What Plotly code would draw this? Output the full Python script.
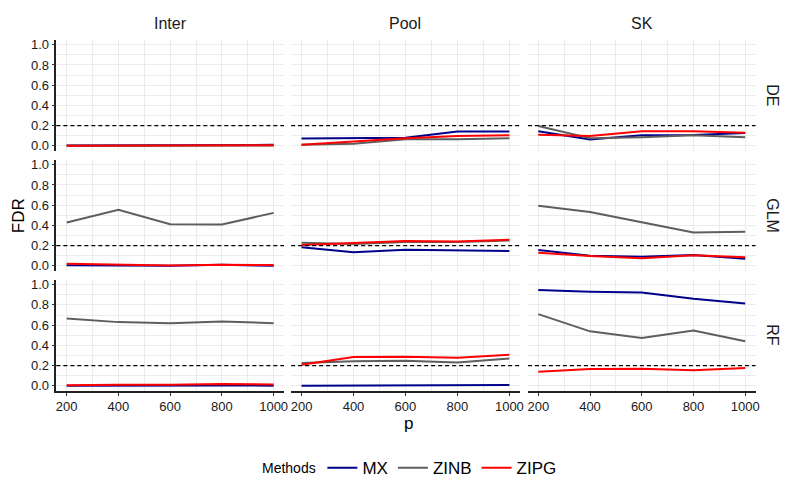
import plotly.graph_objects as go
from plotly.subplots import make_subplots

# page body adds an 8px margin, so the figure is placed at (8, 8)
OFF = 8
W, H = 797 - 2 * OFF, 498 - 2 * OFF

p = [200, 400, 600, 800, 1000]
methods = ["MX", "ZINB", "ZIPG"]
colors = {"MX": "#00008B", "ZINB": "#5E5E5E", "ZIPG": "#FF0000"}
sources = ["Inter", "Pool", "SK"]
models = ["DE", "GLM", "RF"]

# FDR by panel (model, source) and method
de_inter_mx = [0.003, 0.005, 0.008, 0.006, 0.010]
de_inter_zinb = [0.000, 0.000, 0.002, 0.002, 0.003]
de_inter_zipg = [0.002, 0.003, 0.006, 0.005, 0.006]
de_pool_mx = [0.072, 0.078, 0.080, 0.143, 0.143]
de_pool_zinb = [0.012, 0.022, 0.065, 0.066, 0.075]
de_pool_zipg = [0.010, 0.040, 0.075, 0.097, 0.105]
de_sk_mx = [0.144, 0.062, 0.105, 0.108, 0.128]
de_sk_zinb = [0.196, 0.075, 0.085, 0.105, 0.085]
de_sk_zipg = [0.110, 0.098, 0.145, 0.145, 0.130]

glm_inter_mx = [0.006, 0.005, 0.000, 0.010, 0.000]
glm_inter_zinb = [0.428, 0.555, 0.412, 0.408, 0.524]
glm_inter_zipg = [0.020, 0.012, 0.003, 0.012, 0.008]
glm_pool_mx = [0.183, 0.134, 0.160, 0.157, 0.147]
glm_pool_zinb = [0.228, 0.215, 0.235, 0.235, 0.250]
glm_pool_zipg = [0.206, 0.225, 0.245, 0.240, 0.258]
glm_sk_mx = [0.157, 0.101, 0.091, 0.108, 0.069]
glm_sk_zinb = [0.595, 0.533, 0.431, 0.330, 0.336]
glm_sk_zipg = [0.130, 0.098, 0.075, 0.105, 0.085]

rf_inter_mx = [0.002, 0.004, 0.002, 0.003, 0.002]
rf_inter_zinb = [0.667, 0.630, 0.620, 0.636, 0.620]
rf_inter_zipg = [0.006, 0.012, 0.010, 0.018, 0.014]
rf_pool_mx = [0.000, 0.002, 0.002, 0.004, 0.008]
rf_pool_zinb = [0.225, 0.242, 0.248, 0.232, 0.271]
rf_pool_zipg = [0.209, 0.284, 0.287, 0.278, 0.307]
rf_sk_mx = [0.948, 0.931, 0.922, 0.860, 0.814]
rf_sk_zinb = [0.709, 0.539, 0.474, 0.546, 0.441]
rf_sk_zipg = [0.140, 0.167, 0.170, 0.154, 0.176]

fdr = {
    ("DE", "Inter"): [de_inter_mx, de_inter_zinb, de_inter_zipg],
    ("DE", "Pool"): [de_pool_mx, de_pool_zinb, de_pool_zipg],
    ("DE", "SK"): [de_sk_mx, de_sk_zinb, de_sk_zipg],
    ("GLM", "Inter"): [glm_inter_mx, glm_inter_zinb, glm_inter_zipg],
    ("GLM", "Pool"): [glm_pool_mx, glm_pool_zinb, glm_pool_zipg],
    ("GLM", "SK"): [glm_sk_mx, glm_sk_zinb, glm_sk_zipg],
    ("RF", "Inter"): [rf_inter_mx, rf_inter_zinb, rf_inter_zipg],
    ("RF", "Pool"): [rf_pool_mx, rf_pool_zinb, rf_pool_zipg],
    ("RF", "SK"): [rf_sk_mx, rf_sk_zinb, rf_sk_zipg],
}

FONT = "Liberation Sans, Arial, sans-serif"


def px_x(v):
    return (v - OFF) / W


def px_y(v):
    return 1 - (v - OFF) / H


# panel pixel extents in the window: (left, right) and (top, bottom)
col_px = [(56.6, 285.4), (292.6, 522.4), (530.6, 759.4)]
row_px = [(37.9, 150.1), (158.9, 271.1), (279.9, 392.1)]

fig = make_subplots(rows=3, cols=3)

for r, model in enumerate(models):
    for c, src in enumerate(sources):
        for m, y in zip(methods, fdr[(model, src)]):
            fig.add_trace(go.Scatter(
                x=p, y=y, mode='lines', name=m,
                line=dict(color=colors[m], width=2),
                legendgroup=m,
                showlegend=(r == 0 and c == 0)),
                row=r + 1, col=c + 1)
        fig.add_hline(y=0.2, line=dict(color='black', width=1.1,
                                       dash='4px,3px'),
                      row=r + 1, col=c + 1)

grid = '#EBEBEB'
for r in range(3):
    for c in range(3):
        idx = r * 3 + c + 1
        sfx = '' if idx == 1 else str(idx)
        x0, x1 = col_px[c]
        t, b = row_px[r]
        fig.layout['xaxis' + sfx].update(
            domain=[px_x(x0), px_x(x1)],
            range=[160, 1040],
            tickmode='linear', tick0=200, dtick=200,
            showticklabels=(r == 2),
            ticks='outside' if r == 2 else '',
            ticklen=3, tickcolor='#333333', tickwidth=1,
            showline=(r == 2), linecolor='#222222', linewidth=1.5,
            showgrid=True, gridcolor=grid, gridwidth=1.2,
            minor=dict(tickmode='linear', tick0=100, dtick=200,
                       showgrid=True, gridcolor=grid, gridwidth=0.6,
                       ticks=''),
            zeroline=False,
            tickfont=dict(size=13, color='#1A1A1A', family=FONT),
        )
        fig.layout['yaxis' + sfx].update(
            domain=[px_y(b), px_y(t)],
            range=[-0.05, 1.05],
            tickmode='linear', tick0=0, dtick=0.2,
            tickformat='.1f',
            showticklabels=(c == 0),
            ticks='outside' if c == 0 else '',
            ticklen=3, tickcolor='#333333', tickwidth=1,
            showline=(c == 0), linecolor='#222222', linewidth=1.5,
            showgrid=True, gridcolor=grid, gridwidth=1.2,
            minor=dict(tickmode='linear', tick0=0.1, dtick=0.2,
                       showgrid=True, gridcolor=grid, gridwidth=0.6,
                       ticks=''),
            zeroline=False,
            tickfont=dict(size=13, color='#1A1A1A', family=FONT),
        )

annotations = []
for c, src in enumerate(sources):
    x0, x1 = col_px[c]
    annotations.append(dict(
        text=src, x=px_x((x0 + x1) / 2), y=px_y(22),
        xref='paper', yref='paper', showarrow=False,
        xanchor='center', yanchor='middle',
        font=dict(size=16, color='#1A1A1A', family=FONT)))
for r, model in enumerate(models):
    t, b = row_px[r]
    annotations.append(dict(
        text=model, x=px_x(777), y=px_y((t + b) / 2),
        xref='paper', yref='paper', showarrow=False, textangle=90,
        xanchor='center', yanchor='middle',
        font=dict(size=16, color='#1A1A1A', family=FONT)))
annotations.append(dict(
    text='FDR', x=px_x(18), y=px_y(215), xref='paper', yref='paper',
    showarrow=False, textangle=-90, xanchor='center', yanchor='middle',
    font=dict(size=17, color='black', family=FONT)))
annotations.append(dict(
    text='p', x=px_x(411), y=px_y(425), xref='paper', yref='paper',
    showarrow=False, xanchor='center', yanchor='middle',
    font=dict(size=17, color='black', family=FONT)))
# legend title, set beside the keys
annotations.append(dict(
    text='Methods', x=px_x(320), y=px_y(470), xref='paper', yref='paper',
    showarrow=False, xanchor='right', yanchor='middle',
    font=dict(size=14, color='black', family=FONT)))

fig.update_layout(
    width=W, height=H,
    margin=dict(l=0, r=0, t=0, b=0),
    paper_bgcolor='white', plot_bgcolor='white',
    font=dict(family=FONT, color='black'),
    annotations=fig.layout.annotations + tuple(annotations),
    legend=dict(
        orientation='h', x=px_x(324), xanchor='left',
        y=px_y(470), yanchor='middle',
        font=dict(size=17, family=FONT),
        itemwidth=30, tracegroupgap=0,
    ),
)

fig.write_html("out.html")
